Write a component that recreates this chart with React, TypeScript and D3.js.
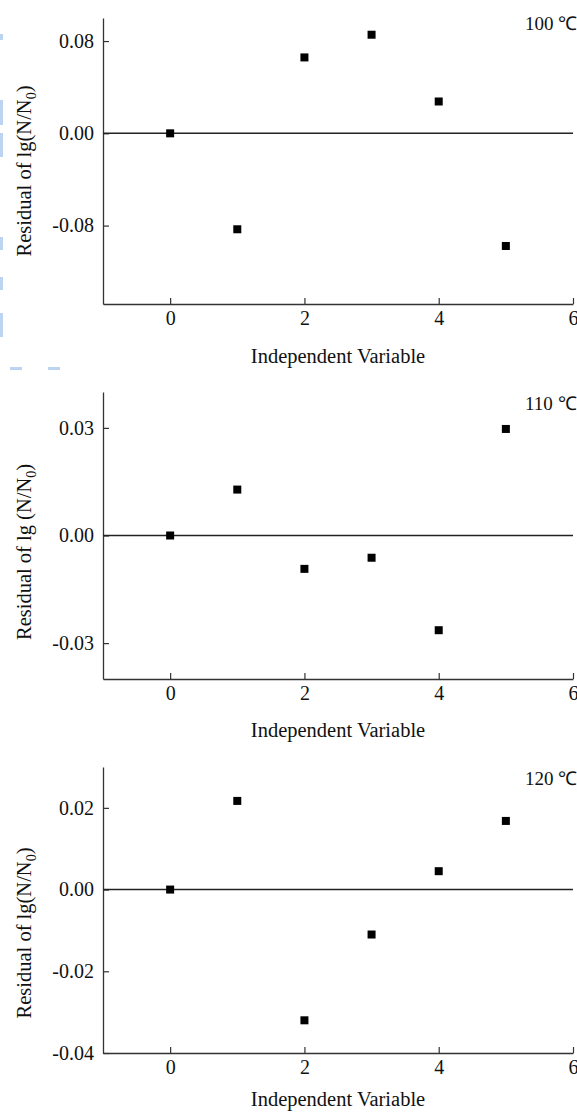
import React, { useEffect, useRef } from "react";
import * as d3 from "d3";

const xValues = [0, 1, 2, 3, 4, 5];
const residual100 = [0, -0.0832, 0.0658, 0.0855, 0.0276, -0.0977];
const residual110 = [0, 0.0128, -0.0093, -0.0062, -0.0264, 0.0297];
const residual120 = [0, 0.0217, -0.032, -0.011, 0.0045, 0.0168];
const xTicks = [0, 2, 4, 6];
const yTicks100 = [0.08, 0, -0.08];
const yTicks110 = [0.03, 0, -0.03];
const yTicks120 = [0.02, 0, -0.02, -0.04];
const panelLabels = ["100 ℃", "110 ℃", "120 ℃"];
const yLabelMid = ["lg(", "lg (", "lg("];

const W = 577;
const H = 1113;
const FONT = "'Liberation Serif', 'Times New Roman', serif";

export default function App() {
  const ref = useRef<SVGSVGElement | null>(null);

  useEffect(() => {
    const svg = d3.select(ref.current);
    svg.selectAll("*").remove();

    // faint blue decorative marks on the left edge (scan artifacts)
    const deco = svg.append("g").attr("fill", "#bcd4f2");
    [[34, 40], [100, 125], [133, 157], [237, 250], [277, 290], [313, 337]].forEach(([a, b]) => {
      deco.append("rect").attr("x", 0).attr("y", a).attr("width", 3).attr("height", b - a);
    });
    [[10, 22], [48, 60]].forEach(([a, b]) => {
      deco.append("rect").attr("x", a).attr("y", 367).attr("width", b - a).attr("height", 3);
    });

    const x = d3.scaleLinear().domain([-1, 6]).range([103, 573]);
    const fmtY = (d: number) => d3.format(".2f")(d).replace("−", "-");

    const panels = [
      { data: residual100, ticks: yTicks100, domain: [-0.148, 0.1], range: [304, 18], lab: 30, ylab: 171, xlab: 59 },
      { data: residual110, ticks: yTicks110, domain: [-0.04, 0.04], range: [679, 392], lab: 410, ylab: 552, xlab: 58 },
      { data: residual120, ticks: yTicks120, domain: [-0.04, 0.03], range: [1053, 767], lab: 785, ylab: 933, xlab: 53 },
    ];

    panels.forEach((p, i) => {
      const y = d3.scaleLinear().domain(p.domain).range(p.range);
      const g = svg.append("g");
      const bottom = p.range[0];

      const xa = g
        .append("g")
        .attr("transform", `translate(0,${bottom})`)
        .call(d3.axisBottom(x).tickValues(xTicks).tickFormat(d3.format("d")).tickSizeInner(-6).tickSizeOuter(0).tickPadding(7));
      const ya = g
        .append("g")
        .attr("transform", `translate(${x(-1)},0)`)
        .call(d3.axisLeft(y).tickValues(p.ticks).tickFormat(fmtY as any).tickSizeInner(-6).tickSizeOuter(0).tickPadding(9));

      [xa, ya].forEach((a) => {
        a.select(".domain").attr("stroke", "#333").attr("stroke-width", 1.3);
        a.selectAll(".tick line").attr("stroke", "#333").attr("stroke-width", 1.2);
        a.selectAll("text").attr("font-family", FONT).attr("font-size", 20).attr("fill", "#111");
      });

      // zero reference line
      g.append("line")
        .attr("x1", x(-1))
        .attr("x2", x(6))
        .attr("y1", y(0))
        .attr("y2", y(0))
        .attr("stroke", "#222")
        .attr("stroke-width", 1.5);

      // points
      g.selectAll("rect.pt")
        .data(p.data)
        .enter()
        .append("rect")
        .attr("class", "pt")
        .attr("x", (_d, j) => x(xValues[j]) - 4)
        .attr("y", (d) => y(d) - 4)
        .attr("width", 8)
        .attr("height", 8)
        .attr("fill", "#000");

      // panel label
      g.append("text")
        .attr("x", 525)
        .attr("y", p.lab)
        .attr("font-family", FONT)
        .attr("font-size", 19)
        .attr("fill", "#111")
        .text(panelLabels[i]);

      // x label
      g.append("text")
        .attr("x", 338)
        .attr("y", bottom + p.xlab)
        .attr("text-anchor", "middle")
        .attr("font-family", FONT)
        .attr("font-size", 20.5)
        .attr("fill", "#111")
        .text("Independent Variable");

      // y label
      const yl = g
        .append("text")
        .attr("transform", `translate(31,${p.ylab}) rotate(-90)`)
        .attr("text-anchor", "middle")
        .attr("font-family", FONT)
        .attr("font-size", 20.5)
        .attr("fill", "#111");
      yl.append("tspan").text(`Residual of ${yLabelMid[i]}N/N`);
      yl.append("tspan").attr("font-size", 14).attr("dy", 5).text("0");
      yl.append("tspan").attr("dy", -5).text(")");
    });
  }, []);

  return (
    <svg
      ref={ref}
      width={W}
      height={H}
      style={{ position: "absolute", left: 0, top: 0, background: "#fff" }}
    />
  );
}
